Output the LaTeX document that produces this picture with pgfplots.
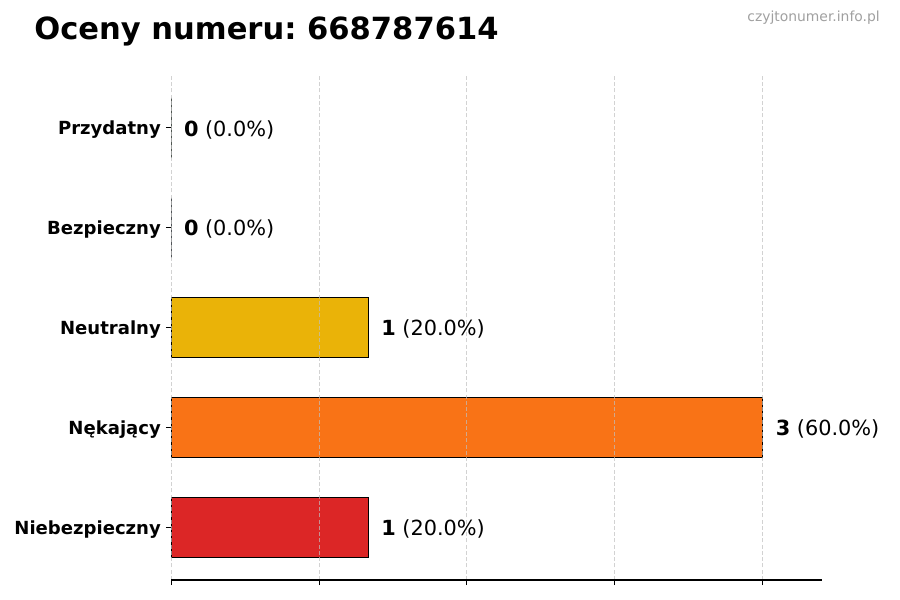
\documentclass[border=0pt]{standalone}
\usepackage{pgfplots}
\pgfplotsset{compat=1.18}
\usepackage{fontspec}
\setmainfont{DejaVu Sans}
\frenchspacing

\definecolor{cRed}{HTML}{DC2626}
\definecolor{cOrange}{HTML}{F97316}
\definecolor{cYellow}{HTML}{EAB308}
\definecolor{cBlue}{HTML}{3B82F6}
\definecolor{cGreen}{HTML}{22C55E}
\definecolor{cMark}{HTML}{A0A0A0}

\begin{document}
\begin{tikzpicture}
\path[use as bounding box] (0,0) rectangle (648bp,432bp);
\node[anchor=base west, inner sep=0, font=\fontsize{22bp}{26bp}\selectfont\bfseries]
  at (24.5bp,403.2bp) {Oceny numeru: 668787614};
\node[anchor=base east, inner sep=0, text=cMark, font=\fontsize{10bp}{12bp}\selectfont]
  at (633.6bp,416.2bp) {czyjtonumer.info.pl};
\begin{axis}[
  at={(123.12bp,14.4bp)}, anchor=south west,
  scale only axis, width=468.72bp, height=363.6bp,
  xbar, bar width=0.6, bar shift=0pt,
  xmin=0, xmax=3.3, ymin=-0.53, ymax=4.53,
  xtick={0,0.75,1.5,2.25,3}, xticklabels={},
  ytick={0,1,2,3,4},
  yticklabels={Niebezpieczny,Nękający,Neutralny,Bezpieczny,Przydatny},
  yticklabel style={font=\fontsize{13bp}{15bp}\selectfont\bfseries, inner sep=0,
    xshift=-3.5bp, yshift=-1.5bp},
  axis x line*=bottom, axis y line*=left,
  x axis line style={-, line width=0.8bp},
  y axis line style={draw=none},
  tick align=outside, tick pos=left,
  major tick length=3.6bp,
  tick style={black, line width=0.6bp},
  xmajorgrids,
  grid style={dashed, dash pattern=on 3bp off 1.5bp, draw=black!25, opacity=0.7, line width=0.6bp},
  axis on top,
  point meta=explicit symbolic,
  nodes near coords,
  every node near coord/.append style={anchor=west, inner sep=0, xshift=9bp, yshift=-1.2bp,
    font=\fontsize{15bp}{18bp}\selectfont, text=black},
  every axis plot/.append style={draw=black, line width=0.72bp},
]
\addplot[fill=cRed] coordinates {(1,0) [\textbf{1} (20.0\%)]};
\addplot[fill=cOrange] coordinates {(3,1) [\textbf{3} (60.0\%)]};
\addplot[fill=cYellow] coordinates {(1,2) [\textbf{1} (20.0\%)]};
\addplot[fill=cBlue] coordinates {(0,3) [\textbf{0} (0.0\%)]};
\addplot[fill=cGreen] coordinates {(0,4) [\textbf{0} (0.0\%)]};
\end{axis}
\end{tikzpicture}
\end{document}
